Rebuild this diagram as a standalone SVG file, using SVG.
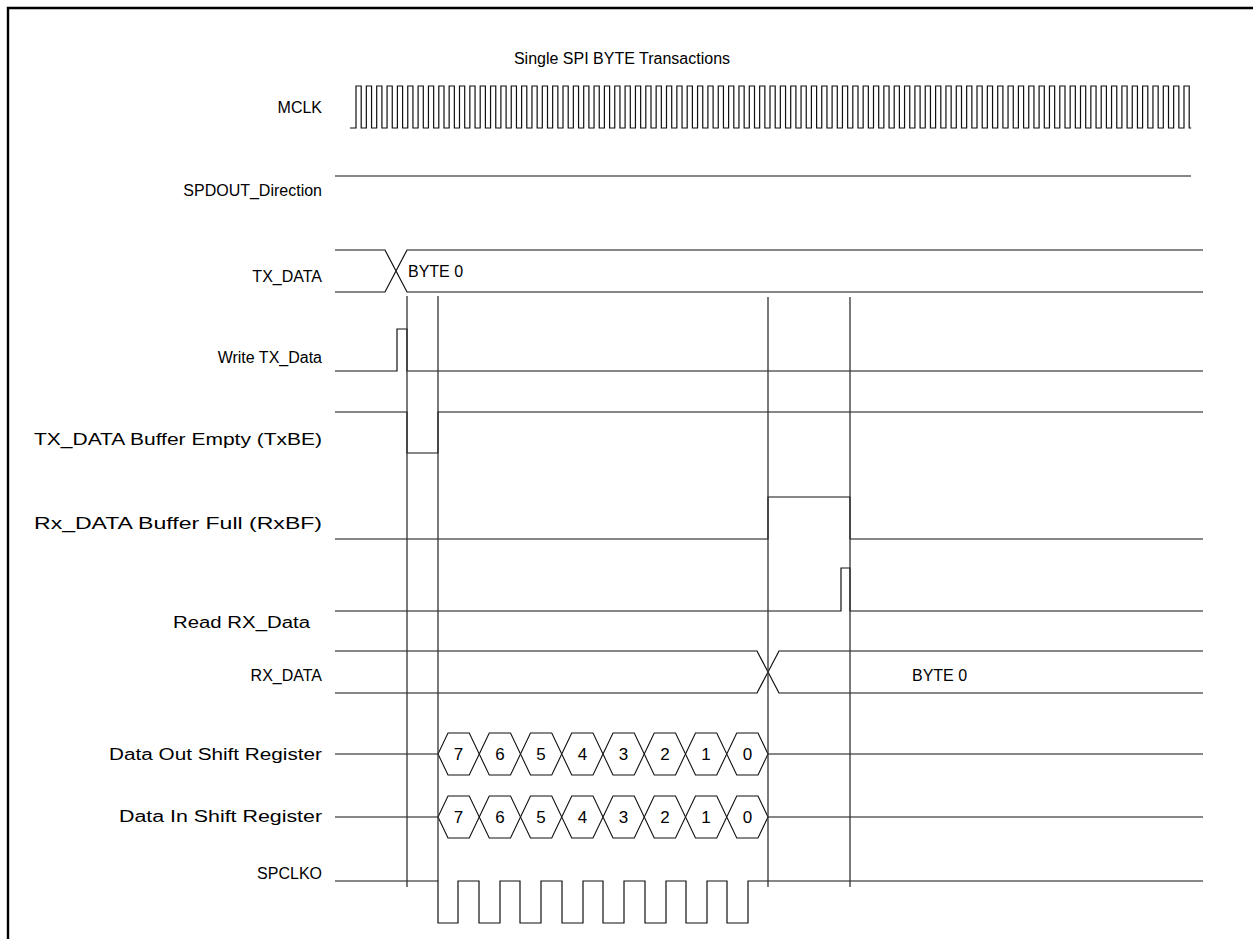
<svg xmlns="http://www.w3.org/2000/svg" width="1253" height="939" viewBox="0 0 1253 939">
<style>
.lbl{font-family:"Liberation Sans",Arial,sans-serif;font-size:16px;fill:#000;text-anchor:end}
.txt{font-family:"Liberation Sans",Arial,sans-serif;font-size:16px;fill:#000}
.num{font-family:"Liberation Sans",Arial,sans-serif;font-size:17px;fill:#000;text-anchor:middle}
.w{fill:none;stroke:#111;stroke-width:1.2}
.v{fill:none;stroke:#333;stroke-width:1.3}
.hex{fill:#fff;stroke:#111;stroke-width:1.1}
</style>
<rect width="1253" height="939" fill="#fff"/>
<path d="M8,939 V8 H1253" fill="none" stroke="#000" stroke-width="2.4"/>
<text class="txt" x="622" y="64" text-anchor="middle">Single SPI BYTE Transactions</text>

<g id="mclk">
<text class="lbl" x="322" y="113">MCLK</text>
<path class="w" d="M350,128H356
v-42h5.2v42h5.15v-42h5.2v42h5.15v-42h5.2v42h5.15v-42h5.2v42h5.15v-42h5.2v42h5.15v-42h5.2v42h5.15v-42h5.2v42h5.15v-42h5.2v42h5.15v-42h5.2v42h5.15
v-42h5.2v42h5.15v-42h5.2v42h5.15v-42h5.2v42h5.15v-42h5.2v42h5.15v-42h5.2v42h5.15v-42h5.2v42h5.15v-42h5.2v42h5.15v-42h5.2v42h5.15v-42h5.2v42h5.15
v-42h5.2v42h5.15v-42h5.2v42h5.15v-42h5.2v42h5.15v-42h5.2v42h5.15v-42h5.2v42h5.15v-42h5.2v42h5.15v-42h5.2v42h5.15v-42h5.2v42h5.15v-42h5.2v42h5.15
v-42h5.2v42h5.15v-42h5.2v42h5.15v-42h5.2v42h5.15v-42h5.2v42h5.15v-42h5.2v42h5.15v-42h5.2v42h5.15v-42h5.2v42h5.15v-42h5.2v42h5.15v-42h5.2v42h5.15
v-42h5.2v42h5.15v-42h5.2v42h5.15v-42h5.2v42h5.15v-42h5.2v42h5.15v-42h5.2v42h5.15v-42h5.2v42h5.15v-42h5.2v42h5.15v-42h5.2v42h5.15v-42h5.2v42h5.15
v-42h5.2v42h5.15v-42h5.2v42h5.15v-42h5.2v42h5.15v-42h5.2v42h5.15v-42h5.2v42h5.15v-42h5.2v42h5.15v-42h5.2v42h5.15v-42h5.2v42h5.15v-42h5.2v42h5.15
v-42h5.2v42h5.15v-42h5.2v42h5.15v-42h5.2v42h5.15v-42h5.2v42h5.15v-42h5.2v42h5.15v-42h5.2v42h5.15v-42h5.2v42h5.15v-42h5.2v42h5.15v-42h5.2v42h5.15
v-42h5.2v42h5.15v-42h5.2v42h5.15v-42h5.2v42h5.15v-42h5.2v42h5.15v-42h5.2v42h5.15v-42h5.2v42h5.15v-42h5.2v42h5.15v-42h5.2v42h5.15v-42h5.2v42h5.15
v-42h5.2v42h5.15v-42h5.2v42h5.15v-42h5.2v42h5.15v-42h5.2v42h5.15v-42h5.2v42h5.15v-42h5.2v42h5.15v-42h5.2v42h5.15v-42h5.2v42h5.15v-42h5.2v42h2"/>
</g>

<g id="spdout_direction">
<text class="lbl" x="322" y="196">SPDOUT_Direction</text>
<path class="w" d="M335,176H1191"/>
</g>

<g id="tx_data">
<text class="lbl" x="322" y="282">TX_DATA</text>
<path class="w" d="M335,250H385L407,292H1203M335,292H385L407,250H1203"/>
<text class="txt" x="408" y="277">BYTE 0</text>
</g>

<g id="write_tx_data">
<text class="lbl" x="322" y="363">Write TX_Data</text>
<path class="w" d="M335,371H397V329H407V371H1203"/>
</g>

<g id="txbe">
<text class="lbl" x="322" y="445" font-size="17" textLength="288" lengthAdjust="spacingAndGlyphs">TX_DATA Buffer Empty (TxBE)</text>
<path class="w" d="M335,412H407V453H438V412H1203"/>
</g>

<g id="rxbf">
<text class="lbl" x="322" y="529" font-size="17" textLength="288" lengthAdjust="spacingAndGlyphs">Rx_DATA Buffer Full (RxBF)</text>
<path class="w" d="M335,539H768V497H850V539H1203"/>
</g>

<g id="read_rx_data">
<text class="lbl" x="310" y="628" font-size="17" textLength="137" lengthAdjust="spacingAndGlyphs">Read RX_Data</text>
<path class="w" d="M335,611H841V568H850V611H1203"/>
</g>

<g id="rx_data">
<text class="lbl" x="322" y="681">RX_DATA</text>
<path class="w" d="M335,651H757L779,693H1203M335,693H757L779,651H1203"/>
<text class="txt" x="912" y="681">BYTE 0</text>
</g>

<g id="data_out_shift_register">
<text class="lbl" x="322" y="760" font-size="17" textLength="213" lengthAdjust="spacingAndGlyphs">Data Out Shift Register</text>
<path class="w" d="M335,754H438M768,754H1203"/>
<polygon class="hex" points="438,754 448,733 469.25,733 479.25,754 469.25,775 448,775"/>
<polygon class="hex" points="479.25,754 489.25,733 510.5,733 520.5,754 510.5,775 489.25,775"/>
<polygon class="hex" points="520.5,754 530.5,733 551.75,733 561.75,754 551.75,775 530.5,775"/>
<polygon class="hex" points="561.75,754 571.75,733 593,733 603,754 593,775 571.75,775"/>
<polygon class="hex" points="603,754 613,733 634.25,733 644.25,754 634.25,775 613,775"/>
<polygon class="hex" points="644.25,754 654.25,733 675.5,733 685.5,754 675.5,775 654.25,775"/>
<polygon class="hex" points="685.5,754 695.5,733 716.75,733 726.75,754 716.75,775 695.5,775"/>
<polygon class="hex" points="726.75,754 736.75,733 758,733 768,754 758,775 736.75,775"/>
<text class="num" x="458.6" y="760">7</text>
<text class="num" x="499.9" y="760">6</text>
<text class="num" x="541.1" y="760">5</text>
<text class="num" x="582.4" y="760">4</text>
<text class="num" x="623.6" y="760">3</text>
<text class="num" x="664.9" y="760">2</text>
<text class="num" x="706.1" y="760">1</text>
<text class="num" x="747.4" y="760">0</text>
</g>

<g id="data_in_shift_register">
<text class="lbl" x="322" y="822" font-size="17" textLength="203" lengthAdjust="spacingAndGlyphs">Data In Shift Register</text>
<path class="w" d="M335,817H438M768,817H1203"/>
<polygon class="hex" points="438,817 448,796 469.25,796 479.25,817 469.25,838 448,838"/>
<polygon class="hex" points="479.25,817 489.25,796 510.5,796 520.5,817 510.5,838 489.25,838"/>
<polygon class="hex" points="520.5,817 530.5,796 551.75,796 561.75,817 551.75,838 530.5,838"/>
<polygon class="hex" points="561.75,817 571.75,796 593,796 603,817 593,838 571.75,838"/>
<polygon class="hex" points="603,817 613,796 634.25,796 644.25,817 634.25,838 613,838"/>
<polygon class="hex" points="644.25,817 654.25,796 675.5,796 685.5,817 675.5,838 654.25,838"/>
<polygon class="hex" points="685.5,817 695.5,796 716.75,796 726.75,817 716.75,838 695.5,838"/>
<polygon class="hex" points="726.75,817 736.75,796 758,796 768,817 758,838 736.75,838"/>
<text class="num" x="458.6" y="823">7</text>
<text class="num" x="499.9" y="823">6</text>
<text class="num" x="541.1" y="823">5</text>
<text class="num" x="582.4" y="823">4</text>
<text class="num" x="623.6" y="823">3</text>
<text class="num" x="664.9" y="823">2</text>
<text class="num" x="706.1" y="823">1</text>
<text class="num" x="747.4" y="823">0</text>
</g>

<g id="spclko">
<text class="lbl" x="322" y="879">SPCLKO</text>
<path class="w" d="M335,881H438V923H458V881H479V923H500V881H520V923H541V881H562V923H583V881H603V923H624V881H645V923H666V881H686V923H707V881H727V923H748V881H1203"/>
</g>

<g id="connectors">
<path class="v" d="M407,296V887M438,296V881M768,297V887M850,297V887"/>
</g>
</svg>
